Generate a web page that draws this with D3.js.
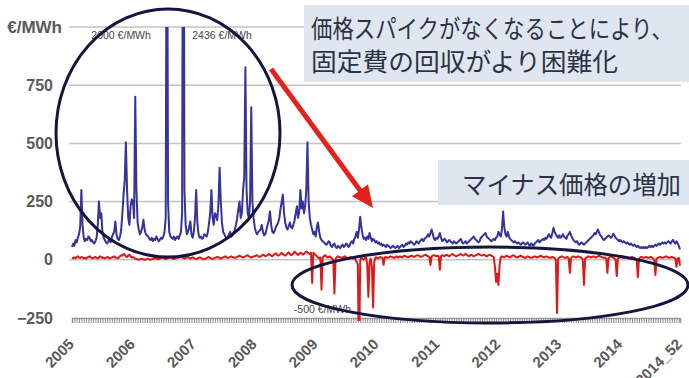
<!DOCTYPE html>
<html>
<head>
<meta charset="utf-8">
<script src="https://cdn.jsdelivr.net/npm/d3@7"></script>
<style>
  html, body { margin: 0; padding: 0; background: #fff; overflow: hidden; }
  svg { display: block; }
</style>
</head>
<body>
<svg id="chart" width="689" height="378"></svg>
<script>
// Weekly wholesale power prices, 2005 week 1 to 2014 week 52 (€/MWh)
const years = ['2005', '2006', '2007', '2008', '2009', '2010', '2011', '2012', '2013', '2014'];
const yTicks = [-250, 0, 250, 500, 750];
const xTickWeeks = ['2005_1', '2006_1', '2007_1', '2008_1', '2009_1', '2010_1', '2011_1', '2012_1', '2013_1', '2014_1', '2014_52'];
const xTickLabels = ['2005', '2006', '2007', '2008', '2009', '2010', '2011', '2012', '2013', '2014', '2014_52'];

// Weekly maximum price (one row per year, 52 weeks each)
const weeklyMax = [
  55, 70, 60, 85, 75, 95, 110, 140, 300, 150, 95, 80, 90, 85, 100, 95, 80, 85, 75, 70, 80, 95, 150, 250, 180, 200, 120, 95, 85, 75, 70, 80, 90, 75, 95, 110, 120, 165, 110, 90, 85, 100, 130, 200, 280, 340, 505, 300, 180, 150, 230, 260,
  250, 180, 700, 300, 160, 130, 110, 120, 140, 172, 130, 110, 105, 100, 90, 85, 95, 80, 90, 85, 100, 90, 80, 85, 95, 90, 100, 120, 180, 2000, 250, 120, 100, 95, 90, 100, 85, 95, 100, 90, 105, 120, 200, 2436, 300, 150, 110, 120, 140, 165, 110, 95,
  120, 180, 300, 160, 110, 95, 100, 90, 95, 110, 105, 100, 120, 160, 200, 300, 180, 150, 200, 190, 170, 240, 395, 250, 160, 120, 110, 100, 90, 95, 110, 120, 100, 105, 115, 130, 150, 180, 220, 250, 180, 200, 300, 350, 827, 300, 200, 180, 250, 655, 250, 180,
  140, 120, 110, 120, 125, 130, 150, 120, 105, 110, 130, 150, 170, 208, 150, 120, 115, 125, 140, 150, 160, 180, 220, 250, 280, 200, 160, 140, 130, 145, 160, 140, 135, 150, 170, 200, 230, 180, 210, 300, 220, 250, 200, 230, 300, 505, 250, 180, 150, 130, 110, 120,
  100, 140, 160, 120, 95, 85, 80, 75, 70, 65, 70, 80, 75, 60, 55, 65, 70, 55, 50, 60, 55, 50, 60, 65, 55, 60, 70, 65, 55, 60, 75, 80, 70, 90, 100, 120, 95, 130, 185, 140, 110, 90, 95, 85, 100, 90, 115, 95, 80, 90, 85, 75,
  80, 70, 75, 65, 70, 60, 65, 60, 55, 65, 60, 55, 50, 55, 60, 55, 50, 55, 60, 50, 55, 60, 65, 55, 60, 70, 65, 75, 70, 80, 75, 70, 65, 70, 80, 75, 70, 80, 85, 90, 80, 90, 95, 100, 110, 100, 115, 130, 110, 90, 85, 95,
  90, 100, 115, 95, 80, 85, 90, 85, 75, 80, 85, 80, 75, 70, 80, 75, 70, 75, 80, 85, 90, 75, 70, 75, 80, 70, 75, 80, 85, 90, 95, 100, 90, 85, 80, 75, 80, 95, 100, 105, 110, 115, 100, 95, 90, 85, 80, 85, 90, 85, 95, 100,
  120, 110, 100, 130, 207, 140, 110, 100, 120, 100, 90, 85, 80, 75, 80, 75, 70, 75, 70, 65, 70, 75, 70, 65, 70, 75, 65, 60, 70, 65, 60, 70, 75, 80, 85, 75, 80, 85, 90, 85, 95, 90, 100, 110, 100, 95, 115, 138, 120, 110, 100, 95,
  105, 95, 100, 110, 100, 95, 90, 105, 110, 120, 105, 95, 85, 80, 75, 80, 70, 65, 70, 75, 70, 65, 70, 75, 80, 85, 90, 95, 100, 105, 115, 110, 120, 130, 115, 105, 100, 90, 85, 90, 95, 100, 105, 100, 95, 100, 112, 105, 95, 90, 85, 80,
  85, 80, 75, 80, 75, 70, 75, 70, 65, 70, 65, 60, 65, 60, 55, 60, 55, 50, 55, 50, 55, 50, 55, 50, 55, 60, 55, 60, 55, 60, 65, 60, 65, 70, 65, 70, 75, 70, 75, 70, 75, 80, 75, 70, 80, 86, 75, 70, 80, 70, 60, 45
];

// Weekly minimum price
const weeklyMin = [
  5, 8, 10, 6, 12, 15, 10, 8, 12, 10, 6, 8, 5, 10, 12, 15, 10, 8, 6, 10, 12, 8, 5, 10, 15, 12, 8, 10, 6, 8, 12, 10, 5, 8, 10, 12, 15, 10, 8, 6, 10, 15, 20, 18, 25, 22, 15, 12, 18, 22, 15, 10,
  12, 8, 5, 3, 2, 0, 2, 5, 3, 2, 0, 2, 3, 5, 2, 0, 2, 3, 5, 8, 5, 3, 2, 5, 8, 10, 8, 5, 3, 5, 8, 10, 12, 8, 5, 3, 5, 8, 10, 8, 12, 15, 10, 8, 5, 8, 10, 12, 8, 5, 8, 10,
  8, 5, 3, 5, 8, 10, 8, 5, 3, 2, 5, 8, 10, 12, 8, 5, 3, 5, 8, 10, 12, 10, 8, 5, 8, 10, 12, 15, 10, 8, 10, 12, 15, 12, 10, 8, 10, 12, 15, 18, 15, 12, 10, 12, 15, 18, 20, 15, 12, 10, 12, 15,
  15, 18, 20, 15, 12, 15, 18, 22, 20, 15, 18, 20, 25, 22, 18, 15, 20, 25, 28, 22, 18, 20, 25, 30, 25, 20, 18, 22, 28, 32, 25, 20, 22, 28, 35, 30, 25, 20, 25, 30, 28, 22, 25, 30, 35, 32, 28, 25, 30, -100, 30, 25,
  20, 15, 10, 5, 10, -128, 10, 15, 20, 15, 10, 12, 15, 10, 5, 0, -145, 5, 10, 15, 12, 10, 8, 10, 12, 15, 10, 8, 5, 10, 12, 8, 5, 10, 0, -10, -20, -500, -5, 10, 5, 0, 8, 10, -20, -160, -10, 5, -30, -205, -10, 10,
  10, 5, 8, 12, 10, 8, -22, 10, 12, 8, 10, 12, 15, 12, 10, 8, 12, 15, 10, 12, 14, 12, 10, 15, 18, 15, 12, 10, 14, 16, 18, 15, 12, 15, 18, 20, 18, 15, 12, 15, 18, 20, 22, 18, 15, 12, -22, 15, 18, 20, 18, 15,
  18, 15, -43, 15, 20, 18, 15, 20, 22, 18, 15, 20, 22, 25, 20, 18, 15, 18, 20, 22, 25, 20, 18, 22, 25, 20, 18, 15, 20, 22, 18, 15, 18, 20, 22, 25, 22, 20, 18, 20, 22, 18, 15, 18, 20, 22, 18, 15, 12, -30, -95, -60,
  -108, -20, 10, 15, 12, 10, 15, 18, 15, 12, 10, 15, 18, 20, 15, 12, 10, 12, 15, 18, 15, 12, 10, 8, 12, 15, 12, 10, 8, 10, 12, 15, 12, 10, 12, 15, 18, 15, 12, 10, 12, 15, 12, 10, 8, 10, 12, 10, 8, 0, -228, 5,
  10, 12, 15, 12, 10, 8, 10, 12, 5, -56, 8, 12, 15, 12, 10, 12, 15, 12, 10, 8, 0, -108, 5, 10, 12, 15, 12, 10, 12, 15, 12, 10, 12, 15, 18, 15, 12, 10, 8, 10, 5, -56, 8, 12, 15, 12, 10, 5, 0, -70, 5, 10,
  10, 12, 10, 8, 10, 12, 10, 8, 5, 10, 12, 10, 8, 5, 0, -75, 5, 10, 12, 10, 8, 10, 12, 10, 8, 10, 12, 10, 5, 0, -65, 5, 8, 10, 12, 10, 8, 10, 12, 15, 12, 10, 8, 10, 12, 10, 8, 5, -30, 5, 8, -25
];

const weekLabels = years.flatMap(yr => d3.range(1, 53).map(w => `${yr}_${w}`));

const svg = d3.select('#chart');
const W = 689, H = 378;
const plotLeft = 72, plotRight = 680, plotTop = 27, plotBottom = 318;

const x = d3.scalePoint().domain(weekLabels).range([plotLeft, plotRight]);
const y = d3.scaleLinear().domain([-250, 1000]).range([plotBottom, plotTop]);

const axisFont = '"Liberation Sans", Arial, sans-serif';
const labelColor = '#595959';

// Horizontal gridlines (250 steps up to 1000)
svg.append('g')
  .selectAll('line')
  .data([0, 250, 500, 750, 1000])
  .join('line')
  .attr('x1', plotLeft - 3).attr('x2', plotRight + 1)
  .attr('y1', d => y(d)).attr('y2', d => y(d))
  .attr('stroke', '#c4c4c4').attr('stroke-width', 1.5);

// Value axis labels
const yAxis = svg.append('g')
  .attr('transform', `translate(${plotLeft - 19},0)`)
  .call(d3.axisLeft(y).tickValues(yTicks).tickSize(0).tickPadding(0));
yAxis.select('.domain').remove();
yAxis.selectAll('text')
  .attr('font-family', axisFont).attr('font-size', 16).attr('font-weight', 'bold')
  .attr('fill', labelColor);

svg.append('text')
  .attr('x', 62).attr('y', y(1000) + 6)
  .attr('text-anchor', 'end')
  .attr('font-family', axisFont).attr('font-size', 17).attr('font-weight', 'bold')
  .attr('fill', labelColor)
  .text('€/MWh');

// Week axis: tick marks every other week along the bottom of the plot
const xAxis = svg.append('g')
  .attr('transform', `translate(0,${plotBottom})`)
  .call(d3.axisBottom(x).tickValues(weekLabels.filter((d, i) => i % 2 === 0)).tickSize(5).tickFormat(''));
xAxis.select('.domain').attr('stroke', '#9a9a9a').attr('stroke-width', 1.5);
xAxis.selectAll('.tick line').attr('stroke', '#8e8e8e').attr('stroke-width', 1);

// Year labels, rotated
svg.append('g')
  .selectAll('text')
  .data(xTickWeeks)
  .join('text')
  .attr('transform', d => `translate(${x(d) + 3},${plotBottom + 27}) rotate(-45)`)
  .attr('text-anchor', 'end')
  .attr('font-family', axisFont).attr('font-size', 15).attr('font-weight', 'bold')
  .attr('fill', labelColor)
  .text((d, i) => xTickLabels[i]);

// Price lines, clipped to the plot band
svg.append('clipPath').attr('id', 'plot-clip')
  .append('rect').attr('x', plotLeft - 5).attr('y', plotTop)
  .attr('width', plotRight - plotLeft + 10).attr('height', plotBottom - plotTop + 3);

const line = d3.line().x((d, i) => x(weekLabels[i])).y(d => y(d));
const lines = svg.append('g').attr('clip-path', 'url(#plot-clip)');
lines.append('path').datum(weeklyMin)
  .attr('d', line).attr('fill', 'none')
  .attr('stroke', '#dc1a1a').attr('stroke-width', 2).attr('stroke-linejoin', 'round');
lines.append('path').datum(weeklyMax)
  .attr('d', line).attr('fill', 'none')
  .attr('stroke', '#34349a').attr('stroke-width', 2).attr('stroke-linejoin', 'round');

// Off-scale value notes, placed beside the spikes they describe
[
  { week: '2006_30', v: 1000, text: '2000 €/MWh', dx: -16, dy: 12, anchor: 'end' },
  { week: '2006_44', v: 1000, text: '2436 €/MWh', dx: 9, dy: 12, anchor: 'start' },
  { week: '2009_38', v: -250, text: '-500 €/MWh', dx: -8, dy: -5, anchor: 'end' }
].forEach(n => {
  svg.append('text')
    .attr('x', x(n.week) + n.dx).attr('y', y(n.v) + n.dy)
    .attr('text-anchor', n.anchor)
    .attr('font-family', axisFont).attr('font-size', 10.5)
    .attr('fill', '#444')
    .text(n.text);
});

// Highlight rings
const ring = '#15153d';
svg.append('ellipse')
  .attr('cx', 168).attr('cy', 133).attr('rx', 112).attr('ry', 124)
  .attr('fill', 'none').attr('stroke', ring).attr('stroke-width', 3);
svg.append('ellipse')
  .attr('cx', 490).attr('cy', 285).attr('rx', 198).attr('ry', 38)
  .attr('fill', 'none').attr('stroke', ring).attr('stroke-width', 3);

// Callout boxes
const jpFont = '"Noto Sans CJK JP", "Noto Sans", sans-serif';
const boxFill = '#dfe6ef';
const textFill = '#2c3346';
svg.append('rect').attr('x', 304).attr('y', 5).attr('width', W - 304).attr('height', 77).attr('fill', boxFill);
svg.append('text')
  .attr('x', 311).attr('y', 38)
  .attr('font-family', jpFont).attr('font-size', 25).attr('fill', textFill)
  .attr('textLength', 362).attr('lengthAdjust', 'spacingAndGlyphs')
  .text('価格スパイクがなくなることにより、');
svg.append('text')
  .attr('x', 311).attr('y', 71)
  .attr('font-family', jpFont).attr('font-size', 25).attr('fill', textFill)
  .attr('textLength', 307).attr('lengthAdjust', 'spacingAndGlyphs')
  .text('固定費の回収がより困難化');

svg.append('rect').attr('x', 438).attr('y', 160).attr('width', W - 438).attr('height', 45).attr('fill', boxFill);
svg.append('text')
  .attr('x', 462).attr('y', 194)
  .attr('font-family', jpFont).attr('font-size', 25).attr('fill', textFill)
  .attr('textLength', 219).attr('lengthAdjust', 'spacingAndGlyphs')
  .text('マイナス価格の増加');

// Downward arrow
const arrowColor = '#e5211c';
const a0 = [271, 69], a1 = [373, 208];
const ang = Math.atan2(a1[1] - a0[1], a1[0] - a0[0]);
const headLen = 22, headHalf = 10;
const base = [a1[0] - headLen * Math.cos(ang), a1[1] - headLen * Math.sin(ang)];
svg.append('line')
  .attr('x1', a0[0]).attr('y1', a0[1])
  .attr('x2', base[0] + 3 * Math.cos(ang)).attr('y2', base[1] + 3 * Math.sin(ang))
  .attr('stroke', arrowColor).attr('stroke-width', 5);
svg.append('path')
  .attr('d', d3.line()([
    a1,
    [base[0] + headHalf * Math.sin(ang), base[1] - headHalf * Math.cos(ang)],
    [base[0] - headHalf * Math.sin(ang), base[1] + headHalf * Math.cos(ang)]
  ]) + 'Z')
  .attr('fill', arrowColor);
</script>
</body>
</html>
